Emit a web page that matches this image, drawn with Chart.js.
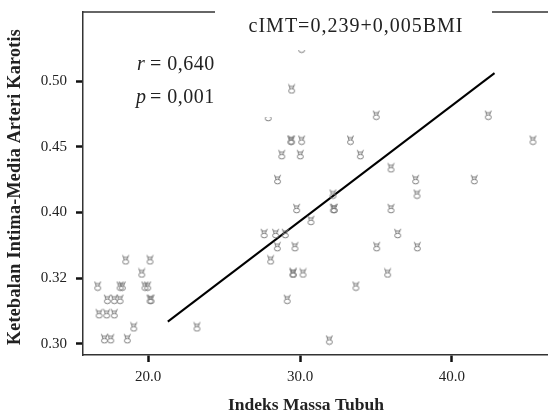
<!DOCTYPE html>
<html lang="id">

<head>
    <meta charset="utf-8" />
    <title>cIMT vs BMI</title>
    <style>
        body {
            margin: 0;
            background: #fff;
        }

        .chart-box {
            width: 548px;
            height: 418px;
        }
    </style>
</head>

<body>
    <div class="chart-box">
        <canvas id="mychart"></canvas>
    </div>

    <script src="https://cdn.jsdelivr.net/npm/chart.js@4.4.1/dist/chart.umd.min.js"></script>

    <script>
        // data
        const bmi = [
            18.53, 20.13, 19.59, 16.69, 18.16, 18.31, 19.80, 19.98, 17.32, 17.78,
            18.16, 20.13, 20.20, 16.78, 17.28, 17.78, 19.06, 17.13, 17.55, 18.64,
            23.22, 30.11, 29.45, 27.91, 29.39, 29.45, 30.11, 33.32, 35.02, 42.39,
            45.33, 28.80, 30.02, 33.97, 35.99, 28.52, 37.61, 41.47, 32.17, 37.70,
            29.78, 32.19, 32.27, 35.99, 30.72, 27.64, 28.40, 29.03, 36.43, 28.51,
            29.67, 35.05, 37.72, 28.07, 29.52, 29.57, 30.20, 35.77, 33.68, 29.16,
            31.93
        ];
        const cimt = [
            0.364, 0.364, 0.354, 0.344, 0.344, 0.344, 0.344, 0.344, 0.334, 0.334,
            0.334, 0.334, 0.334, 0.323, 0.323, 0.323, 0.313, 0.304, 0.304, 0.304,
            0.313, 0.525, 0.494, 0.473, 0.455, 0.455, 0.455, 0.455, 0.474, 0.474,
            0.455, 0.444, 0.444, 0.444, 0.434, 0.425, 0.425, 0.425, 0.414, 0.414,
            0.403, 0.403, 0.403, 0.403, 0.394, 0.384, 0.384, 0.384, 0.384, 0.374,
            0.374, 0.374, 0.374, 0.364, 0.354, 0.354, 0.354, 0.354, 0.344, 0.334,
            0.303
        ];

        // regression line end points
        const lineX = [21.3, 42.8];
        const lineY = [0.317, 0.506];

        // tick values and labels (as printed)
        const xTicks = [20, 30, 40];
        const xTickLabels = ['20.0', '30.0', '40.0'];
        const yTicks = [0.30, 0.35, 0.40, 0.45, 0.50];
        const yTickLabels = ['0.30', '0.32', '0.40', '0.45', '0.50'];

        const points = bmi.map((v, i) => ({ x: v, y: cimt[i] }));
        const linePoints = lineX.map((v, i) => ({ x: v, y: lineY[i] }));

        const serif = "'Liberation Serif', 'DejaVu Serif', serif";

        // small hand-like glyph used as marker
        const marker = document.createElement('canvas');
        marker.width = 9;
        marker.height = 11;
        const mctx = marker.getContext('2d');
        mctx.strokeStyle = '#7a7a7a';
        mctx.lineWidth = 1;
        mctx.beginPath();
        mctx.ellipse(4.5, 7.5, 3, 2.3, 0, 0, Math.PI * 2);
        mctx.moveTo(3, 5.3);
        mctx.lineTo(1.5, 0.8);
        mctx.moveTo(5.5, 5.3);
        mctx.lineTo(7.5, 0.8);
        mctx.moveTo(2, 3);
        mctx.lineTo(7, 3);
        mctx.stroke();

        // top frame line, equation, r / p text and axis titles
        const notes = {
            id: 'notes',
            afterDatasetsDraw(chart) {
                const ctx = chart.ctx;
                const a = chart.chartArea;
                ctx.save();
                ctx.strokeStyle = '#333';
                ctx.lineWidth = 1.5;
                ctx.beginPath();
                ctx.moveTo(a.left, a.top);
                ctx.lineTo(a.right, a.top);
                ctx.stroke();

                ctx.fillStyle = '#fff';
                ctx.fillRect(215, 0, 277, 50);
                ctx.fillRect(120, 40, 155, 77);

                ctx.fillStyle = '#222';
                ctx.textBaseline = 'middle';
                ctx.textAlign = 'center';
                ctx.letterSpacing = '1px';
                ctx.font = '20px ' + serif;
                ctx.fillText('cIMT=0,239+0,005BMI', 356, 27);

                ctx.textAlign = 'left';
                ctx.letterSpacing = '0.5px';
                ctx.font = 'italic 20px ' + serif;
                ctx.fillText('r', 137, 65);
                ctx.fillText('p', 136, 98);
                ctx.font = '20px ' + serif;
                ctx.fillText('= 0,640', 150, 65);
                ctx.fillText('= 0,001', 150, 98);

                // axis titles
                ctx.textAlign = 'center';
                ctx.letterSpacing = '0px';
                ctx.font = 'bold 17.5px ' + serif;
                ctx.fillText('Indeks Massa Tubuh', 306, 405);
                ctx.letterSpacing = '0.3px';
                ctx.font = 'bold 18px ' + serif;
                ctx.translate(15, 187);
                ctx.rotate(-Math.PI / 2);
                ctx.fillText('Ketebalan Intima-Media Arteri Karotis', 0, 0);
                ctx.restore();
            }
        };

        new Chart(document.getElementById('mychart'), {
            type: 'scatter',
            data: {
                datasets: [{
                    label: 'cIMT',
                    data: points,
                    pointStyle: marker,
                    pointRadius: 5,
                    pointHoverRadius: 5
                }, {
                    type: 'line',
                    label: 'fit',
                    data: linePoints,
                    borderColor: '#000',
                    borderWidth: 2,
                    pointRadius: 0,
                    fill: false
                }]
            },
            options: {
                responsive: true,
                maintainAspectRatio: false,
                animation: false,
                layout: {
                    autoPadding: false,
                    padding: { top: 12, right: 0, left: 0, bottom: 0 }
                },
                plugins: {
                    legend: { display: false },
                    tooltip: { enabled: false }
                },
                scales: {
                    x: {
                        type: 'linear',
                        min: 15.72,
                        max: 46.32,
                        afterBuildTicks: (s) => { s.ticks = xTicks.map(v => ({ value: v })); },
                        afterFit: (s) => {
                            s.height = 63;
                            s.paddingLeft = 0;
                            s.paddingRight = 0;
                        },
                        border: { color: '#333', width: 1.5 },
                        grid: { drawOnChartArea: false, tickLength: 7, tickWidth: 2.5, tickColor: '#111' },
                        ticks: {
                            color: '#222',
                            padding: 6,
                            maxRotation: 0,
                            font: { family: serif, size: 15 },
                            callback: (v, i) => xTickLabels[i]
                        }
                    },
                    y: {
                        type: 'linear',
                        min: 0.2916,
                        max: 0.5525,
                        afterBuildTicks: (s) => { s.ticks = yTicks.map(v => ({ value: v })); },
                        afterFit: (s) => {
                            s.width = 83;
                            s.paddingTop = 0;
                            s.paddingBottom = 0;
                        },
                        border: { color: '#333', width: 1.5 },
                        grid: { drawOnChartArea: false, tickLength: 7, tickWidth: 2.5, tickColor: '#111' },
                        ticks: {
                            color: '#222',
                            padding: 9,
                            font: { family: serif, size: 15 },
                            callback: (v, i) => yTickLabels[i]
                        }
                    }
                }
            },
            plugins: [notes]
        });
    </script>

</body>

</html>
